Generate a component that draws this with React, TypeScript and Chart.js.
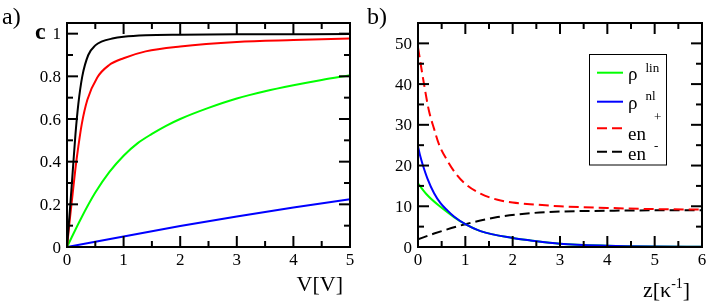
import React, { useEffect, useRef } from "react";
import { Chart, registerables } from "chart.js";

Chart.register(...registerables);

const SERIF = "'Liberation Serif', 'Times New Roman', Times, serif";
Chart.defaults.font.family = SERIF;
Chart.defaults.font.size = 17;
Chart.defaults.color = "#000";

// ---------- panel a) : c versus V ----------
const A_X_TICKS = [0, 1, 2, 3, 4, 5];
const A_X_LABELS = ["0", "1", "2", "3", "4", "5"];
const A_Y_TICKS = [0, 0.2, 0.4, 0.6, 0.8, 1];
const A_Y_LABELS = ["0", "0.2", "0.4", "0.6", "0.8", "1"];

const A_BLACK_V = [0, 0.05, 0.1, 0.15, 0.2, 0.27, 0.376, 0.5, 0.62, 0.8, 1.0, 1.39, 2, 3, 5];
const A_BLACK_C = [0, 0.17, 0.35, 0.53, 0.67, 0.8, 0.9, 0.945, 0.964, 0.977, 0.985, 0.992, 0.995, 0.997, 0.998];

const A_RED_V = [0, 0.05, 0.1, 0.15, 0.2, 0.26, 0.36, 0.535, 0.74, 1, 1.39, 2, 3, 4, 5];
const A_RED_C = [0, 0.13, 0.25, 0.37, 0.47, 0.575, 0.69, 0.795, 0.852, 0.885, 0.917, 0.94, 0.961, 0.97, 0.977];

const A_GREEN_V = [0, 0.25, 0.5, 0.75, 1, 1.25, 1.5, 1.75, 2, 2.5, 3, 3.5, 4, 4.5, 5];
const A_GREEN_C = [0, 0.135, 0.255, 0.352, 0.428, 0.487, 0.53, 0.568, 0.6, 0.652, 0.696, 0.73, 0.758, 0.783, 0.805];

const A_BLUE_V = [0, 1, 2, 3, 4, 5];
const A_BLUE_C = [0, 0.049, 0.098, 0.143, 0.185, 0.224];

// ---------- panel b) : densities versus z ----------
const B_X_TICKS = [0, 1, 2, 3, 4, 5, 6];
const B_X_LABELS = ["0", "1", "2", "3", "4", "5", "6"];
const B_Y_TICKS = [0, 10, 20, 30, 40, 50];
const B_Y_LABELS = ["0", "10", "20", "30", "40", "50"];

const B_LIN_Z = [0, 0.2, 0.48, 0.76, 1.0, 1.32, 2.0, 2.38, 3, 4, 5, 6];
const B_LIN = [15.6, 12.7, 9.8, 7.35, 5.6, 3.9, 2.2, 1.6, 0.8, 0.3, 0.1, 0.04];

const B_NL_Z = [0, 0.05, 0.1, 0.2, 0.34, 0.48, 0.62, 0.76, 1.0, 1.32, 2.0, 2.38, 3, 4, 5, 6];
const B_NL = [24.7, 22.2, 20.2, 16.8, 13.2, 10.7, 9.0, 7.5, 5.6, 3.9, 2.2, 1.6, 0.8, 0.3, 0.1, 0.04];

const B_EP_Z = [0, 0.127, 0.23, 0.34, 0.44, 0.62, 0.8, 1.0, 1.32, 1.68, 2.0, 2.5, 3, 4, 5, 6];
const B_EP = [49, 40, 33.5, 29, 25.3, 21.2, 18, 15.5, 13.1, 11.6, 10.9, 10.4, 10.0, 9.6, 9.3, 9.2];

const B_EM_Z = [0, 0.34, 1.0, 1.68, 2.38, 3, 4, 5, 6];
const B_EM = [1.9, 3.3, 5.6, 7.35, 8.3, 8.7, 8.9, 9.0, 9.0];

const B_LEGEND_MAIN = ["ρ", "ρ", "en", "en"];
const B_LEGEND_SUP = ["lin", "nl", "+", "-"];

function pts(xs: number[], ys: number[]) {
  return xs.map((x, i) => ({ x, y: ys[i] }));
}

function axisFramePlugin(
  minorX: number,
  minorY: number,
  xLabels: string[],
  yLabels: string[]
) {
  return {
    id: "axisFrame",
    afterDraw(chart: any) {
      const { ctx, chartArea: a, scales } = chart;
      const xs = scales.x;
      const ys = scales.y;
      ctx.save();
      ctx.strokeStyle = "#000";
      ctx.lineWidth = 2;
      ctx.lineCap = "butt";
      const line = (x1: number, y1: number, x2: number, y2: number) => {
        ctx.beginPath();
        ctx.moveTo(x1, y1);
        ctx.lineTo(x2, y2);
        ctx.stroke();
      };
      const MAJ = 11;
      const MIN = 6;
      const nx = Math.round((xs.max - xs.min) / minorX);
      for (let i = 1; i < nx; i++) {
        const v = xs.min + i * minorX;
        const p = xs.getPixelForValue(v);
        const isMaj = xs.ticks.some((t: any) => Math.abs(t.value - v) < 1e-9);
        const L = isMaj ? MAJ : MIN;
        line(p, a.bottom, p, a.bottom - L);
        line(p, a.top, p, a.top + L);
      }
      const ny = Math.round((ys.max - ys.min) / minorY);
      for (let i = 1; i <= ny; i++) {
        const v = ys.min + i * minorY;
        if (v >= ys.max - 1e-9) continue;
        const p = ys.getPixelForValue(v);
        const isMaj = ys.ticks.some((t: any) => Math.abs(t.value - v) < 1e-9);
        const L = isMaj ? MAJ : MIN;
        line(a.left, p, a.left + L, p);
        line(a.right, p, a.right - L, p);
      }
      ctx.strokeRect(a.left, a.top, a.right - a.left, a.bottom - a.top);

      // tick labels, placed through the scales
      ctx.fillStyle = "#000";
      ctx.font = `17px ${SERIF}`;
      ctx.textBaseline = "alphabetic";
      ctx.textAlign = "center";
      xs.ticks.forEach((t: any, i: number) => {
        ctx.fillText(xLabels[i], xs.getPixelForValue(t.value), a.bottom + 18);
      });
      ctx.textAlign = "right";
      ys.ticks.forEach((t: any, i: number) => {
        ctx.fillText(yLabels[i], a.left - 6, ys.getPixelForValue(t.value) + 5.5);
      });
      ctx.restore();
    },
  };
}

function baseOptions(
  xMax: number,
  yMax: number,
  xTicks: number[],
  yTicks: number[],
  yWidth: number,
  padRight: number
): any {
  return {
    responsive: false,
    maintainAspectRatio: false,
    animation: false,
    devicePixelRatio: 1,
    layout: { padding: { left: 0, top: 23, right: padRight, bottom: 0 } },
    plugins: {
      legend: { display: false },
      tooltip: { enabled: false },
      title: { display: false },
    },
    elements: {
      point: { radius: 0 },
      line: { borderWidth: 2, cubicInterpolationMode: "monotone" },
    },
    scales: {
      x: {
        type: "linear",
        min: 0,
        max: xMax,
        afterBuildTicks: (s: any) => {
          s.ticks = xTicks.map((v) => ({ value: v }));
        },
        afterFit: (s: any) => {
          s.height = 54;
          s.paddingLeft = 0;
          s.paddingRight = 0;
        },
        grid: { display: false, drawTicks: false },
        border: { display: false },
        ticks: { display: false, autoSkip: false },
      },
      y: {
        type: "linear",
        min: 0,
        max: yMax,
        afterBuildTicks: (s: any) => {
          s.ticks = yTicks.map((v) => ({ value: v }));
        },
        afterFit: (s: any) => {
          s.width = yWidth;
          s.paddingTop = 0;
          s.paddingBottom = 0;
        },
        grid: { display: false, drawTicks: false },
        border: { display: false },
        ticks: { display: false, autoSkip: false },
      },
    },
  };
}

const panelATextPlugin = {
  id: "panelAText",
  afterDraw(chart: any) {
    const ctx = chart.ctx;
    ctx.save();
    ctx.fillStyle = "#000";
    ctx.textBaseline = "alphabetic";
    ctx.textAlign = "left";
    ctx.font = `24px ${SERIF}`;
    ctx.fillText("a)", 2, 24);
    ctx.font = `bold 24px ${SERIF}`;
    ctx.fillText("c", 35, 39);
    ctx.font = `22px ${SERIF}`;
    ctx.textAlign = "right";
    ctx.fillText("V[V]", 343, 291);
    ctx.restore();
  },
};

const LEG_LINE_Y = [72.7, 101.7, 128.3, 151.7];
const LEG_TEXT_Y = [80, 108.5, 140, 160];
const LEG_SUP_Y = [71.5, 100, 121, 150];

const panelBTextPlugin = {
  id: "panelBText",
  afterDraw(chart: any) {
    const ctx = chart.ctx;
    ctx.save();
    ctx.fillStyle = "#000";
    ctx.textBaseline = "alphabetic";
    ctx.textAlign = "left";
    ctx.font = `24px ${SERIF}`;
    ctx.fillText("b)", 13, 24);

    // axis title z[κ^-1]
    let x = 289;
    ctx.font = `22px ${SERIF}`;
    ctx.fillText("z[κ", x, 297);
    x += ctx.measureText("z[κ").width;
    ctx.font = `14px ${SERIF}`;
    ctx.fillText("-1", x, 288);
    x += ctx.measureText("-1").width;
    ctx.font = `22px ${SERIF}`;
    ctx.fillText("]", x, 297);

    // legend
    ctx.strokeStyle = "#000";
    ctx.lineWidth = 1;
    ctx.strokeRect(235.5, 54.5, 77, 110.5);
    const legendOrder = [1, 0, 2, 3];
    legendOrder.forEach((dsIndex, row) => {
      const ds = chart.data.datasets[dsIndex];
      ctx.save();
      ctx.strokeStyle = ds.borderColor;
      ctx.lineWidth = 2;
      ctx.setLineDash(ds.borderDash || []);
      ctx.beginPath();
      ctx.moveTo(243, LEG_LINE_Y[row]);
      ctx.lineTo(269, LEG_LINE_Y[row]);
      ctx.stroke();
      ctx.restore();
      ctx.fillStyle = "#000";
      ctx.font = `19px ${SERIF}`;
      ctx.fillText(B_LEGEND_MAIN[row], 274, LEG_TEXT_Y[row]);
      const w = ctx.measureText(B_LEGEND_MAIN[row]).width;
      ctx.font = `13px ${SERIF}`;
      ctx.fillText(B_LEGEND_SUP[row], 274 + w + 8, LEG_SUP_Y[row]);
    });
    ctx.restore();
  },
};

export default function App() {
  const refA = useRef<HTMLCanvasElement | null>(null);
  const refB = useRef<HTMLCanvasElement | null>(null);

  useEffect(() => {
    if (!refA.current || !refB.current) return;
    const chartA = new Chart(refA.current, {
      type: "line",
      data: {
        datasets: [
          { label: "black", data: pts(A_BLACK_V, A_BLACK_C), borderColor: "#000000" },
          { label: "red", data: pts(A_RED_V, A_RED_C), borderColor: "#ff0000" },
          { label: "green", data: pts(A_GREEN_V, A_GREEN_C), borderColor: "#00ff00" },
          { label: "blue", data: pts(A_BLUE_V, A_BLUE_C), borderColor: "#0000ff" },
        ],
      },
      options: baseOptions(5, 1.05, A_X_TICKS, A_Y_TICKS, 67, 4),
      plugins: [axisFramePlugin(0.5, 0.1, A_X_LABELS, A_Y_LABELS), panelATextPlugin],
    } as any);

    const chartB = new Chart(refB.current, {
      type: "line",
      data: {
        datasets: [
          { label: "ρnl", data: pts(B_NL_Z, B_NL), borderColor: "#0000ff" },
          { label: "ρlin", data: pts(B_LIN_Z, B_LIN), borderColor: "#00ff00" },
          { label: "en+", data: pts(B_EP_Z, B_EP), borderColor: "#ff0000", borderDash: [10, 5] },
          { label: "en-", data: pts(B_EM_Z, B_EM), borderColor: "#000000", borderDash: [10, 5] },
        ],
      },
      options: baseOptions(6, 55, B_X_TICKS, B_Y_TICKS, 64, 6),
      plugins: [axisFramePlugin(0.5, 5, B_X_LABELS, B_Y_LABELS), panelBTextPlugin],
    } as any);

    return () => {
      chartA.destroy();
      chartB.destroy();
    };
  }, []);

  return (
    <div
      style={{
        position: "absolute",
        left: 0,
        top: 0,
        width: 708,
        height: 301,
        background: "#fff",
        overflow: "hidden",
      }}
    >
      <canvas
        ref={refA}
        width={354}
        height={301}
        style={{ position: "absolute", left: 0, top: 0, width: 354, height: 301 }}
      />
      <canvas
        ref={refB}
        width={354}
        height={301}
        style={{ position: "absolute", left: 354, top: 0, width: 354, height: 301 }}
      />
    </div>
  );
}
